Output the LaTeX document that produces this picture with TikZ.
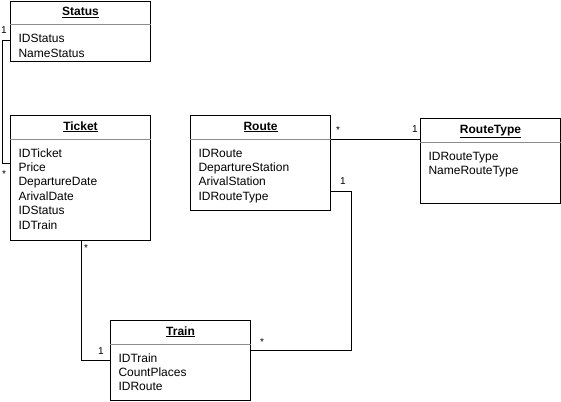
\documentclass[tikz,border=0pt]{standalone}
\usepackage{fontspec}
\setmainfont{Liberation Sans}
\usetikzlibrary{calc}
\newcommand{\umlclass}[6]{%
  \node[cls, minimum height=#4pt] (#1) at (#2,#3) {};
  \draw[sepline] ($(#1.north west)+(0,24)$) -- ($(#1.north east)+(0,24)$);
  \node[ttl] (#1-t) at ($(#1.north)+(0,15)$) {\underline{#5}};
  \foreach \a [count=\i] in {#6} {
    \node[attr] (#1-a\i) at ($(#1.north west)+(8,{42+14.4*(\i-1)})$) {\a};
  }
}
\begin{document}
\begin{tikzpicture}[x=1pt,y=-1pt, line width=1pt,
  cls/.style={draw=black, fill=white, anchor=north west, inner sep=0pt, minimum width=140pt},
  ttl/.style={font=\fontsize{12}{14}\selectfont\bfseries, anchor=base, inner sep=0pt},
  attr/.style={font=\fontsize{12}{14.4}\selectfont, anchor=base west, inner sep=0pt},
  sepline/.style={draw=black!45, line width=1pt},
  mult/.style={font=\fontsize{10}{12}\selectfont, inner sep=0pt}]
\useasboundingbox (0,0) rectangle (561,401);

\umlclass{status}{10}{1}{60}{Status}{IDStatus,NameStatus}
\umlclass{ticket}{10}{115}{125}{Ticket}{IDTicket,Price,DepartureDate,ArivalDate,IDStatus,IDTrain}
\umlclass{route}{190}{115}{95}{Route}{IDRoute,DepartureStation,ArivalStation,IDRouteType}
\umlclass{routetype}{420}{118}{85}{RouteType}{IDRouteType,NameRouteType}
\umlclass{train}{110}{320}{80}{Train}{IDTrain,CountPlaces,IDRoute}

% Status - Ticket
\draw ($(status.north west)+(0,40)$) -- ++(-7.5,0) |- ($(ticket.north west)+(0,48)$);
\node[mult] (m1) at (4,30) {1};
\node[mult] (m2) at (4,174) {*};

% Ticket - Train
\draw ($(ticket.south west)+(71,0)$) |- ($(train.north west)+(0,40)$);
\node[mult] (m3) at (86,248) {*};
\node[mult] (m4) at (101,351) {1};

% Route - RouteType
\draw ($(route.north east)+(0,24)$) -- ($(routetype.north west)+(0,21)$);
\node[mult] (m5) at (338,130) {*};
\node[mult] (m6) at (415,129) {1};

% Route - Train
\draw ($(route.north east)+(0,76)$) -- ++(20.5,0) |- ($(train.north east)+(0,30)$);
\node[mult] (m7) at (343,181) {1};
\node[mult] (m8) at (262,342) {*};
\end{tikzpicture}
\end{document}
